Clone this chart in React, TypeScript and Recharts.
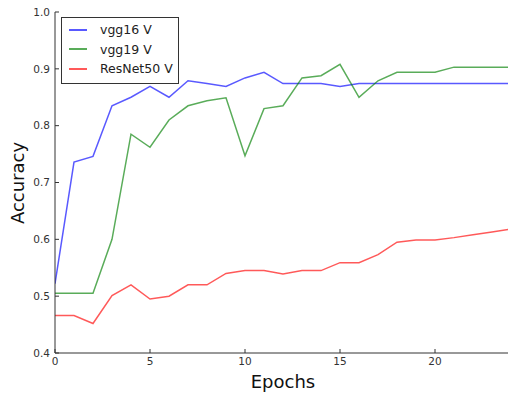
import { LineChart, Line, XAxis, YAxis } from 'recharts'

const epochs = [0, 1, 2, 3, 4, 5, 6, 7, 8, 9, 10, 11, 12, 13, 14, 15, 16, 17, 18, 19, 20, 21, 22, 23, 24]
const vgg16 = [0.522, 0.736, 0.746, 0.835, 0.85, 0.869, 0.85, 0.879, 0.874, 0.869, 0.884, 0.894, 0.874, 0.874, 0.874, 0.869, 0.874, 0.874, 0.874, 0.874, 0.874, 0.874, 0.874, 0.874, 0.874]
const vgg19 = [0.505, 0.505, 0.505, 0.6, 0.785, 0.762, 0.81, 0.835, 0.844, 0.849, 0.747, 0.83, 0.835, 0.884, 0.888, 0.908, 0.85, 0.879, 0.894, 0.894, 0.894, 0.903, 0.903, 0.903, 0.903]
const resnet50 = [0.466, 0.466, 0.452, 0.501, 0.52, 0.495, 0.5, 0.52, 0.52, 0.54, 0.545, 0.545, 0.539, 0.545, 0.545, 0.559, 0.559, 0.573, 0.595, 0.599, 0.599, 0.603, 0.608, 0.613, 0.618]
const xTicks = [0, 5, 10, 15, 20]
const yTicks = [0.4, 0.5, 0.6, 0.7, 0.8, 0.9, 1.0]

const series = [
  { key: 'vgg16', name: 'vgg16 V', color: 'rgba(0,0,255,0.65)' },
  { key: 'vgg19', name: 'vgg19 V', color: 'rgba(0,128,0,0.65)' },
  { key: 'resnet50', name: 'ResNet50 V', color: 'rgba(255,0,0,0.65)' },
]

const data = epochs.map((e, i) => ({ epoch: e, vgg16: vgg16[i], vgg19: vgg19[i], resnet50: resnet50[i] }))

const font = 'DejaVu Sans'
const axisColor = '#333'
const tickStyle = { fill: '#333', fontSize: 10.5, fontFamily: font }

// matplotlib-style legend box, laid over the plot
function LegendBox() {
  return (
    <div style={{
      position: 'absolute', left: 61, top: 17, width: 116, height: 61,
      background: '#fff', border: '1px solid #333', padding: '2px 0',
      fontFamily: font, fontSize: 12.5, boxSizing: 'content-box',
    }}>
      {series.map(s => (
        <div key={s.key} style={{ display: 'flex', alignItems: 'center', height: 19.6, whiteSpace: 'nowrap' }}>
          <div style={{ width: 18, height: 2, background: s.color, marginLeft: 7, marginRight: 13 }} />
          <span style={{ color: '#222' }}>{s.name}</span>
        </div>
      ))}
    </div>
  )
}

export default function App() {
  return (
    <div style={{ position: 'absolute', left: 0, top: 0, width: 508, height: 394, overflow: 'hidden', background: '#fff' }}>
      <LineChart width={521} height={394} data={data} margin={{ top: 12, right: 10, left: 0, bottom: 0 }}>
        <XAxis
          dataKey="epoch" type="number" domain={[0, 24]} ticks={xTicks} allowDataOverflow
          height={41} tickSize={-4} tickMargin={9} stroke={axisColor} tick={tickStyle}
          label={{
            content: ({ viewBox }: any) => (
              <text x={viewBox.x + viewBox.width / 2} y={388} textAnchor="middle" fontSize={18} fontFamily={font} fill="#111">Epochs</text>
            ),
          }}
        />
        <XAxis xAxisId="top" orientation="top" dataKey="epoch" type="number" domain={[0, 24]} ticks={xTicks} allowDataOverflow
          height={0} tickSize={-4} tick={false} stroke={axisColor} />
        <YAxis
          type="number" domain={[0.4, 1.0]} ticks={yTicks} allowDataOverflow width={55}
          tickSize={-4} tickMargin={9} stroke={axisColor} tick={tickStyle} tickFormatter={(v: number) => v.toFixed(1)}
          label={{
            content: () => (
              <text x={0} y={0} transform="translate(24,183) rotate(-90)" textAnchor="middle" fontSize={18} fontFamily={font} fill="#111">Accuracy</text>
            ),
          }}
        />
        <YAxis yAxisId="right" orientation="right" type="number" domain={[0.4, 1.0]} ticks={yTicks} allowDataOverflow
          width={0} tickSize={-4} tick={false} stroke={axisColor} />
        {series.map(s => (
          <Line key={s.key} dataKey={s.key} name={s.name} stroke={s.color} strokeWidth={1.5} dot={false} isAnimationActive={false} type="linear" />
        ))}
      </LineChart>
      <LegendBox />
    </div>
  )
}
